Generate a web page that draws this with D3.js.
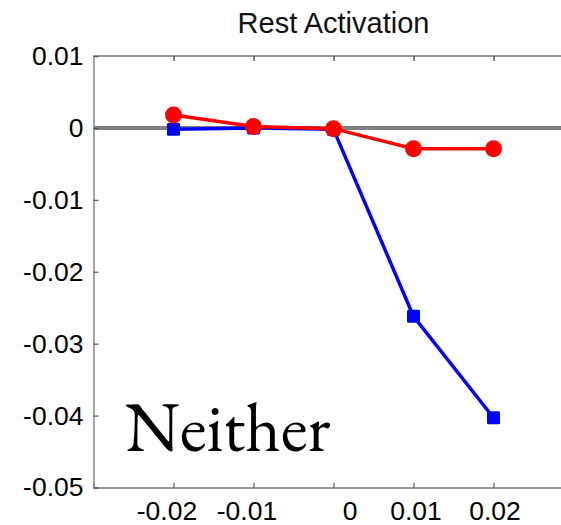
<!DOCTYPE html>
<html>
<head>
<meta charset="utf-8">
<script src="https://cdn.jsdelivr.net/npm/d3@7"></script>
<style>
  html, body { margin: 0; padding: 0; background: #fff; overflow: hidden; }
  svg { display: block; }
</style>
</head>
<body>
<script>
const xValues = [-0.02, -0.01, 0, 0.01, 0.02];
const redSeries = [0.0018, 0.0002, -0.0001, -0.0029, -0.0029];
const blueSeries = [-0.0002, 0.0000, -0.0002, -0.0262, -0.0403];
const xTicks = [-0.02, -0.01, 0, 0.01, 0.02];
const yTicks = [0.01, 0, -0.01, -0.02, -0.03, -0.04, -0.05];
const xTickLabels = ["-0.02", "-0.01", "0", "0.01", "0.02"];
const yTickLabels = ["0.01", "0", "-0.01", "-0.02", "-0.03", "-0.04", "-0.05"];
const titleText = "Rest Activation";
const annotation = "Neither";

const W = 561, H = 525;
const svg = d3.select("body").append("svg").attr("width", W).attr("height", H);

const x = d3.scaleLinear().domain([-0.03, 0.03]).range([93.5, 573.5]);
const y = d3.scaleLinear().domain([-0.05, 0.01]).range([487.5, 56]);

const fontSans = "Arial, 'Liberation Sans', Helvetica, sans-serif";

// Zero line
svg.append("line")
  .attr("x1", x(-0.03)).attr("x2", x(0.03))
  .attr("y1", y(0)).attr("y2", y(0))
  .attr("stroke", "#808080").attr("stroke-width", 4);

// Top border
svg.append("line")
  .attr("x1", x(-0.03)).attr("x2", x(0.03))
  .attr("y1", y(0.01)).attr("y2", y(0.01))
  .attr("stroke", "#333").attr("stroke-width", 1.2);

// Bottom axis
const labelShift = [-7, -7, 16, 2, 1];
const xAxis = d3.axisBottom(x).tickValues(xTicks).tickSize(-5).tickPadding(14)
  .tickFormat((d, i) => xTickLabels[i]);
const gx = svg.append("g").attr("transform", `translate(0,${y(-0.05)})`).call(xAxis);
gx.select(".domain").attr("stroke", "#777").attr("stroke-width", 1.5);
gx.selectAll(".tick line").attr("stroke", "#555").attr("stroke-width", 1.2);
gx.selectAll("text").attr("font-family", fontSans).attr("font-size", 26.5).attr("fill", "#000")
  .attr("dx", (d, i) => labelShift[i]);

// Top ticks
const xAxisTop = d3.axisTop(x).tickValues(xTicks).tickSize(-5).tickFormat("");
const gxt = svg.append("g").attr("transform", `translate(0,${y(0.01)})`).call(xAxisTop);
gxt.select(".domain").remove();
gxt.selectAll(".tick line").attr("stroke", "#333").attr("stroke-width", 1.2);

// Left axis
const yAxis = d3.axisLeft(y).tickValues(yTicks).tickSize(-5).tickPadding(10)
  .tickFormat((d, i) => yTickLabels[i]);
const gy = svg.append("g").attr("transform", `translate(${x(-0.03)},0)`).call(yAxis);
gy.select(".domain").attr("stroke", "#888").attr("stroke-width", 1.5);
gy.selectAll(".tick line").attr("stroke", "#555").attr("stroke-width", 1.2);
gy.selectAll("text").attr("font-family", fontSans).attr("font-size", 26.5).attr("fill", "#000");

// Title
svg.append("text")
  .attr("x", x(0)).attr("y", 33)
  .attr("text-anchor", "middle")
  .attr("font-family", fontSans).attr("font-size", 29)
  .attr("fill", "#111")
  .text(titleText);

// Series
const line = d3.line().x((d, i) => x(xValues[i])).y(d => y(d));

svg.append("path").datum(blueSeries)
  .attr("d", line).attr("fill", "none")
  .attr("stroke", "#0000ff").attr("stroke-width", 3.5);
svg.selectAll(".sq").data(blueSeries).enter().append("rect")
  .attr("x", (d, i) => x(xValues[i]) - 6.5)
  .attr("y", d => y(d) - 6.5)
  .attr("width", 13).attr("height", 13)
  .attr("rx", 1.5)
  .attr("fill", "#0000ff");

svg.append("path").datum(redSeries)
  .attr("d", line).attr("fill", "none")
  .attr("stroke", "#ff0000").attr("stroke-width", 3.5);
svg.selectAll(".ci").data(redSeries).enter().append("circle")
  .attr("cx", (d, i) => x(xValues[i]))
  .attr("cy", d => y(d))
  .attr("r", 8.5)
  .attr("fill", "#ff0000");

// Annotation
svg.append("text")
  .attr("x", 125).attr("y", 451)
  .attr("font-family", "'EB Garamond', Garamond, 'Liberation Serif', 'Times New Roman', serif")
  .attr("font-size", 69)
  .attr("fill", "#000")
  .text(annotation);
</script>
</body>
</html>
